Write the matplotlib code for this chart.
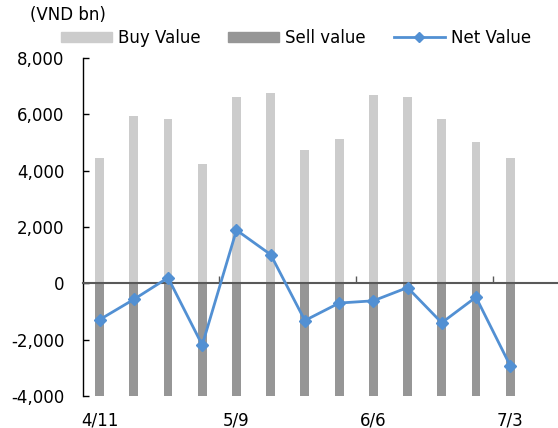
import matplotlib
matplotlib.use("Agg")
import matplotlib.pyplot as plt
from matplotlib.patches import Patch
from matplotlib.lines import Line2D
import numpy as np

# weekly foreign trading, VND bn
weeks = ["4/11", "4/18", "4/25", "5/2", "5/9", "5/16", "5/23", "5/30",
         "6/6", "6/13", "6/20", "6/27", "7/3"]
buy_value = [4450, 5950, 5850, 4250, 6620, 6750, 4720, 5120,
             6680, 6600, 5830, 5020, 4450]
sell_value = [-5740, -6520, -5650, -6440, -4730, -5730, -6040, -5820,
              -7300, -6750, -7230, -5510, -7370]
net_value = [-1290, -570, 200, -2190, 1890, 1020, -1320, -700,
             -620, -150, -1400, -490, -2920]

buy_color = "#cccccc"
sell_color = "#969696"
net_color = "#5290d3"

plt.rcParams["font.family"] = "DejaVu Sans"
fig = plt.figure(figsize=(5.58, 4.28), dpi=100)
ax = fig.add_axes([82.5 / 558, 1 - 396 / 428, 479 / 558, 338 / 428])

x = np.arange(len(weeks))
w = 0.26
ax.bar(x, buy_value, w, color=buy_color, zorder=2)
ax.bar(x, sell_value, w, color=sell_color, zorder=2)
ax.plot(x, net_value, color=net_color, lw=2, marker="D", ms=6, zorder=4)

ax.set_xlim(-0.5, 13.5)
ax.set_ylim(-4000, 8000)
ax.set_yticks(np.arange(-4000, 8001, 2000))
ax.set_yticklabels([f"{v:,}" for v in range(-4000, 8001, 2000)])
ax.tick_params(axis="y", direction="in", length=4, width=1, pad=13, labelsize=12)

ax.set_xticks(x[::4])
ax.set_xticklabels(weeks[::4])
ax.tick_params(axis="x", length=0, pad=11, labelsize=12)

for s in ["top", "right", "bottom"]:
    ax.spines[s].set_visible(False)
ax.spines["left"].set_linewidth(1)

# zero line with category separators
zero = ax.secondary_xaxis(4000 / 12000)
zero.set_xticks([3.5, 7.5, 11.5])
zero.tick_params(direction="in", length=5, width=1, color="#595959", labelbottom=False)
zero.spines["bottom"].set_color("#595959")
zero.spines["bottom"].set_linewidth(1.5)
zero.set_zorder(3)

fig.text(30 / 558, 1 - 15 / 428, "(VND bn)", fontsize=12, va="center", ha="left")

handles = [Patch(color=buy_color), Patch(color=sell_color),
           Line2D([], [], color=net_color, lw=2, marker="D", ms=5)]
fig.legend(handles, ["Buy Value", "Sell value", "Net Value"], ncol=3,
           loc="center", bbox_to_anchor=(296 / 558, 1 - 38 / 428),
           frameon=False, fontsize=12, handlelength=3.06, handleheight=0.6,
           handletextpad=0.36, columnspacing=1.65, borderaxespad=0)

fig.savefig("out.png", dpi=100)
